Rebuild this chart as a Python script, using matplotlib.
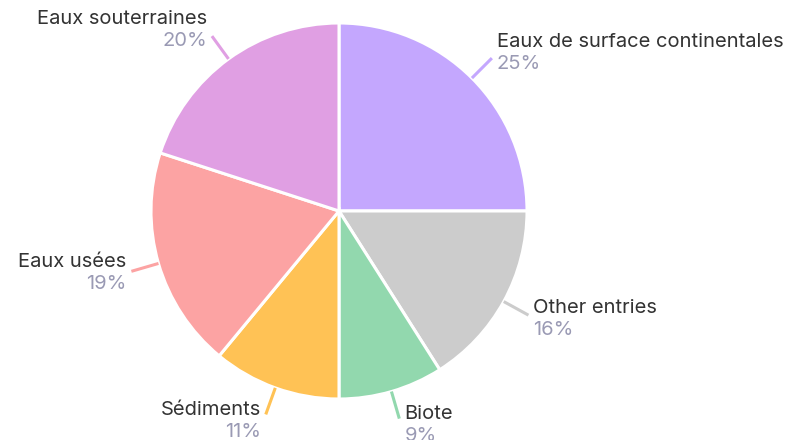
import matplotlib
matplotlib.use("Agg")
import matplotlib.pyplot as plt
import numpy as np

plt.rcParams['font.family'] = ['Inter', 'DejaVu Sans']

labels = ["Eaux de surface continentales", "Other entries", "Biote",
          "Sédiments", "Eaux usées", "Eaux souterraines"]
shares = [25, 16, 9, 11, 19, 20]
pct_labels = ["25%", "16%", "9%", "11%", "19%", "20%"]
colors = ["#c4a7fe", "#cccccc", "#92d8ae", "#ffc255", "#fca3a3", "#e09fe3"]


def main():
    W, H = 792, 440
    fig = plt.figure(figsize=(W / 100, H / 100), dpi=100)
    cx, cy, r = 339, 211, 188
    ax = fig.add_axes([(cx - r) / W, (H - cy - r) / H, 2 * r / W, 2 * r / H])

    wedges, _ = ax.pie(shares, colors=colors, startangle=90, counterclock=False,
                       wedgeprops=dict(edgecolor="white", linewidth=2.2))
    ax.set_aspect("equal")
    ax.set_xlim(-1, 1)
    ax.set_ylim(-1, 1)

    px = 0.72  # points per pixel
    for w, name, pct, col in zip(wedges, labels, pct_labels, colors):
        ang = np.deg2rad((w.theta1 + w.theta2) / 2)
        c, s = np.cos(ang), np.sin(ang)
        x1, y1 = c * 1.15, s * 1.15
        ax.plot([c, x1], [s, y1], color=col, lw=2.2, clip_on=False,
                solid_capstyle="butt")
        ha = "left" if c > 0 else "right"
        dx = 5 if c > 0 else -5
        mid = s * 7
        ax.annotate(name, (x1, y1), xytext=(dx * px, (mid + 11) * px),
                    textcoords="offset points", annotation_clip=False,
                    ha=ha, va="center", fontsize=14.5, color="#333333")
        ax.annotate(pct, (x1, y1), xytext=(dx * px, (mid - 11) * px),
                    textcoords="offset points", annotation_clip=False,
                    ha=ha, va="center", fontsize=14.5, color="#9a9ab4")

    fig.savefig("out.png", dpi=100)


if __name__ == '__main__':
    main()
